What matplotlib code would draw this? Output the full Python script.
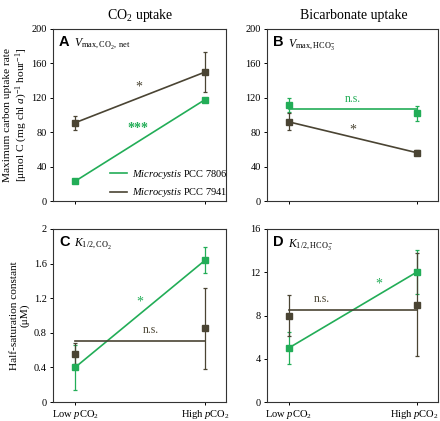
import matplotlib
matplotlib.use("Agg")
import matplotlib.pyplot as plt
import matplotlib.transforms as mtransforms
import numpy as np

plt.rcParams['font.family'] = ['Liberation Serif', 'DejaVu Serif']
plt.rcParams['mathtext.fontset'] = 'custom'
plt.rcParams['mathtext.rm'] = 'Liberation Serif'
plt.rcParams['mathtext.it'] = 'Liberation Serif:italic'
plt.rcParams['mathtext.bf'] = 'Liberation Serif:bold'

GREEN = '#22ad57'
DARK = '#4a4433'

conditions = ['Low $p$CO$_2$', 'High $p$CO$_2$']
strains = ['PCC 7806', 'PCC 7941']

# Panel A: Vmax CO2 net
a_7806 = [23, 118]
a_7806_err = [1.5, 2]
a_7941 = [91, 150]
a_7941_err = [8, 23]
# Panel B: Vmax HCO3-
b_7806 = [112, 102]
b_7806_err = [8, 9]
b_7941 = [92, 56]
b_7941_err = [10, 3]
# Panel C: K1/2 CO2
c_7806 = [0.40, 1.64]
c_7806_err = [0.26, 0.15]
c_7941 = [0.56, 0.85]
c_7941_err = [0.12, 0.47]
# Panel D: K1/2 HCO3-
d_7806 = [5.0, 12.05]
d_7806_err = [1.5, 2.05]
d_7941 = [8.0, 9.0]
d_7941_err = [1.9, 4.75]

# significance: True -> line connects means; False (n.s.) -> flat line at mean
sig = {
    'A': (True, True), 'B': (False, True), 'C': (True, False), 'D': (True, False)
}

fig = plt.figure(figsize=(4.4, 4.21), dpi=100)
W, H = 440, 421
def ax_at(x0, y0, x1, y1):
    return fig.add_axes([x0 / W, 1 - y1 / H, (x1 - x0) / W, (y1 - y0) / H])

axA = ax_at(53, 29, 226, 201)
axB = ax_at(267, 29, 438, 201)
axC = ax_at(53, 229, 226, 402)
axD = ax_at(267, 229, 438, 402)

x = np.array([0, 1])

def draw(ax, g, ge, d, de, sg, sd):
    for vals, errs, col, s, lab in [(g, ge, GREEN, sg, strains[0]), (d, de, DARK, sd, strains[1])]:
        vals = np.array(vals)
        line = vals if s else np.full(2, vals.mean())
        ax.plot(x, line, color=col, lw=1.2, zorder=2,
                label=r'$\it{Microcystis}$ ' + lab)
        ax.errorbar(x, vals, yerr=errs, fmt='s', color=col, ms=4.2, capsize=1.6,
                    elinewidth=0.9, capthick=0.9, zorder=3)
    ax.set_xlim(-0.17, 1.16)
    ax.set_xticks(x)
    ax.tick_params(axis='both', direction='out', length=2.5, width=0.7,
                   labelsize=7.5, pad=2)
    for sp in ax.spines.values():
        sp.set_linewidth(0.8)
        sp.set_color('#333333')

draw(axA, a_7806, a_7806_err, a_7941, a_7941_err, *sig['A'])
draw(axB, b_7806, b_7806_err, b_7941, b_7941_err, *sig['B'])
draw(axC, c_7806, c_7806_err, c_7941, c_7941_err, *sig['C'])
draw(axD, d_7806, d_7806_err, d_7941, d_7941_err, *sig['D'])

for ax in (axA, axB):
    ax.set_ylim(0, 200)
    ax.set_yticks(np.arange(0, 201, 40))
    ax.set_xticklabels(['', ''])
axC.set_ylim(0, 2)
axC.set_yticks([0, 0.4, 0.8, 1.2, 1.6, 2])
axC.set_yticklabels(['0', '0.4', '0.8', '1.2', '1.6', '2'])
axD.set_ylim(0, 16)
axD.set_yticks([0, 4, 8, 12, 16])
for ax in (axC, axD):
    ax.set_xticklabels(conditions, fontsize=7.6)
    ax.tick_params(axis='x', pad=1.5)

# nudge the right-most tick label so it stays inside the figure
lab = axD.get_xticklabels()[1]
lab.set_transform(lab.get_transform() +
                  mtransforms.ScaledTranslation(-3 / 100, 0, fig.dpi_scale_trans))

axA.set_ylabel('Maximum carbon uptake rate\n[μmol C (mg chl $a$)$^{-1}$ hour$^{-1}$]',
               fontsize=8.2, linespacing=1.1)
axC.set_ylabel('Half-saturation constant\n(μM)', fontsize=8.2, linespacing=1.2)
for ax in (axA, axC):
    ax.yaxis.set_label_coords(-0.135, 0.5)

def panel(ax, letter, sub):
    ax.text(0.035, 0.965, letter, transform=ax.transAxes, fontsize=10.5,
            fontweight='bold', family='Liberation Sans', va='top', ha='left')
    ax.text(0.12, 0.955, sub, transform=ax.transAxes, fontsize=8.5,
            va='top', ha='left')

panel(axA, 'A', r'$V_{\mathrm{max,CO_2,\ net}}$')
panel(axB, 'B', r'$V_{\mathrm{max,HCO_3^-}}$')
panel(axC, 'C', r'$K_{\mathrm{1/2,CO_2}}$')
panel(axD, 'D', r'$K_{\mathrm{1/2,HCO_3^-}}$')

# significance labels
axA.text(0.49, 132, '*', color=DARK, fontsize=10, ha='center', va='center')
axA.text(0.48, 84, '***', color=GREEN, fontsize=10, ha='center', va='center',
         fontweight='bold')
axB.text(0.50, 119, 'n.s.', color=GREEN, fontsize=8.5, ha='center', va='center')
axB.text(0.50, 83, '*', color=DARK, fontsize=10, ha='center', va='center')
axC.text(0.50, 1.16, '*', color=GREEN, fontsize=10, ha='center', va='center')
axC.text(0.58, 0.83, 'n.s.', color=DARK, fontsize=8.5, ha='center', va='center')
axD.text(0.70, 10.9, '*', color=GREEN, fontsize=10, ha='center', va='center')
axD.text(0.26, 9.5, 'n.s.', color=DARK, fontsize=8.5, ha='center', va='center')

axA.legend(loc='lower right', frameon=False, fontsize=7.5, handlelength=1.6,
           handletextpad=0.5, borderaxespad=0.1, labelspacing=0.5,
           bbox_to_anchor=(1.04, -0.02))

fig.text(140 / W, 1 - 15 / H, 'CO$_2$ uptake', ha='center', va='center', fontsize=10)
fig.text(354 / W, 1 - 15 / H, 'Bicarbonate uptake', ha='center', va='center', fontsize=10)

fig.savefig('out.png', dpi=100)
